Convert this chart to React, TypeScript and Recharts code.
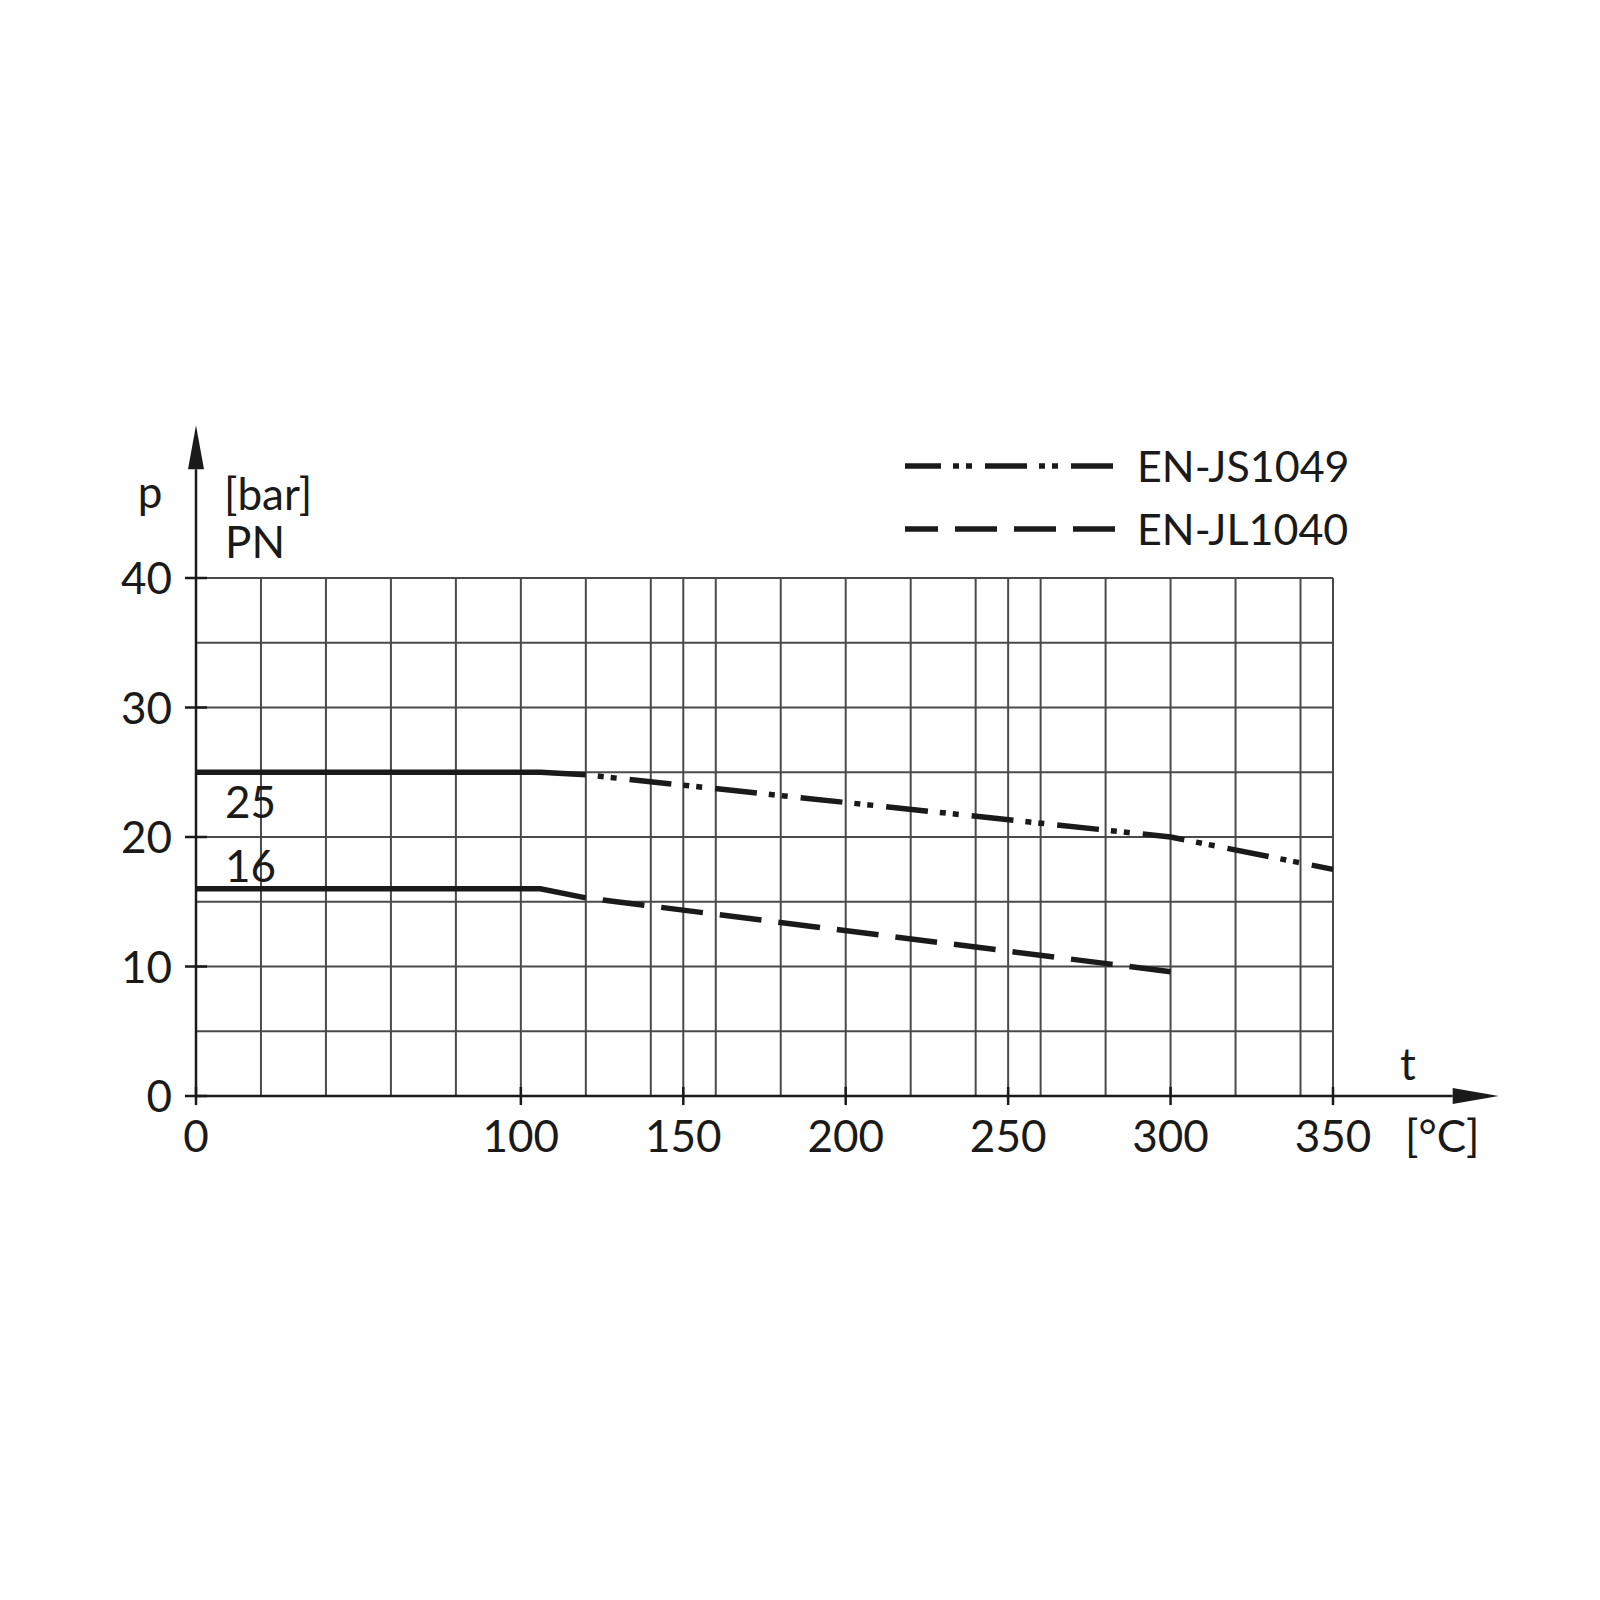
import React from "react";
import {
  LineChart,
  Line,
  XAxis,
  YAxis,
  ReferenceLine,
  Label,
} from "recharts";

// axis ticks and grid
const xTicks = [0, 100, 150, 200, 250, 300, 350];
const yTicks = [0, 10, 20, 30, 40];
const gridX = [20, 40, 60, 80, 100, 120, 140, 150, 160, 180, 200, 220, 240, 250, 260, 280, 300, 320, 340, 350];
const gridY = [5, 10, 15, 20, 25, 30, 35, 40];

// pressure rating curves (t in °C, p in bar)
const pn25 = [
  { t: 0, p: 25 },
  { t: 106, p: 25 },
  { t: 120, p: 24.8 },
];
const js1049 = [
  { t: 120, p: 24.8 },
  { t: 300, p: 20 },
  { t: 350, p: 17.5 },
];
const pn16 = [
  { t: 0, p: 16 },
  { t: 106, p: 16 },
  { t: 120, p: 15.3 },
];
const jl1040 = [
  { t: 120, p: 15.3 },
  { t: 300, p: 9.6 },
];

const legendNames = ["EN-JS1049", "EN-JL1040"];

const FONT = "Lato, 'DejaVu Sans', sans-serif";
const INK = "#1a1a1a";
const GRID = "#4a4a4a";
const LINE_W = 5.5;

const dashStyles: Record<string, { dash: string; offset: number; legendOffset: number }> = {
  "EN-JS1049": { dash: "42 12 6 7 6 13", offset: 42, legendOffset: 6 },
  "EN-JL1040": { dash: "42 17", offset: 42, legendOffset: 9 },
};

const arrowShape = (len: number, half: number) => (props: any) => {
  const { x1, y1, x2, y2 } = props;
  const dx = x2 - x1;
  const dy = y2 - y1;
  const d = Math.hypot(dx, dy) || 1;
  const ux = dx / d;
  const uy = dy / d;
  const bx = x2 - ux * len;
  const by = y2 - uy * len;
  const px = -uy * half;
  const py = ux * half;
  return (
    <g>
      <line x1={x1} y1={y1} x2={bx} y2={by} stroke={INK} strokeWidth={2.5} />
      <polygon
        points={`${x2},${y2} ${bx + px},${by + py} ${bx - px},${by - py}`}
        fill={INK}
      />
    </g>
  );
};

const XTick = ({ x, y, payload }: any) => (
  <text x={x} y={y + 56} textAnchor="middle" fontSize={44} fontFamily={FONT} fill={INK}>
    {payload.value}
  </text>
);

const YTick = ({ x, y, payload }: any) => (
  <text x={x - 24} y={y + 16} textAnchor="end" fontSize={44} fontFamily={FONT} fill={INK}>
    {payload.value}
  </text>
);

const pnLabel = (dy: number) => (props: any) => {
  const { x, y, index, value } = props;
  if (index !== 0) return null;
  return (
    <text x={x + 29} y={y + dy} fontSize={44} fontFamily={FONT} fill={INK}>
      {value}
    </text>
  );
};

const YAxisTitle = (props: any) => {
  const { viewBox } = props;
  const right = viewBox.x + viewBox.width;
  const top = viewBox.y;
  return (
    <g fontFamily={FONT} fontSize={44} fill={INK}>
      <text x={right - 46} y={top - 70} textAnchor="middle">p</text>
      <text x={right + 28} y={top - 68}>[bar]</text>
      <text x={right + 29} y={top - 20}>PN</text>
    </g>
  );
};

const XAxisTitle = (props: any) => {
  const { viewBox } = props;
  const right = viewBox.x + viewBox.width;
  const top = viewBox.y;
  return (
    <g fontFamily={FONT} fontSize={44} fill={INK}>
      <text x={right + 75} y={top - 16} textAnchor="middle">t</text>
      <text x={right + 72} y={top + 56}>[°C]</text>
    </g>
  );
};

function ChartLegend() {
  return (
    <div
      style={{
        position: "absolute",
        left: 905,
        top: 434,
        fontFamily: FONT,
        fontSize: 43,
        color: INK,
      }}
    >
      {legendNames.map((name) => {
        const s = dashStyles[name];
        return (
          <div key={name} style={{ display: "flex", alignItems: "center", height: 63 }}>
            <svg width={212} height={12} style={{ marginRight: 20 }}>
              <line
                x1={0}
                y1={6}
                x2={212}
                y2={6}
                stroke={INK}
                strokeWidth={LINE_W}
                strokeDasharray={s.dash}
                strokeDashoffset={s.legendOffset}
              />
            </svg>
            <span>{name}</span>
          </div>
        );
      })}
    </div>
  );
}

export default function App() {
  return (
    <div style={{ position: "absolute", left: 0, top: 0, width: 1600, height: 1600, background: "#fff" }}>
      <LineChart
        width={1600}
        height={1600}
        margin={{ top: 578, right: 267, bottom: 474, left: 136 }}
      >
        <XAxis
          dataKey="t"
          type="number"
          domain={[0, 350]}
          ticks={xTicks}
          interval={0}
          height={30}
          tickSize={0}
          tickMargin={0}
          tickLine={false}
          axisLine={false}
          tick={<XTick />}
        >
          <Label content={<XAxisTitle />} />
        </XAxis>
        <YAxis
          type="number"
          domain={[0, 40]}
          ticks={yTicks}
          interval={0}
          width={60}
          tickSize={0}
          tickMargin={0}
          tickLine={false}
          axisLine={false}
          tick={<YTick />}
        >
          <Label content={<YAxisTitle />} />
        </YAxis>

        {gridX.map((v) => (
          <ReferenceLine key={`gx${v}`} x={v} stroke={GRID} strokeWidth={2} />
        ))}
        {gridY.map((v) => (
          <ReferenceLine key={`gy${v}`} y={v} stroke={GRID} strokeWidth={2} />
        ))}
        {xTicks.map((v) => (
          <ReferenceLine
            key={`tx${v}`}
            segment={[{ x: v, y: -0.7 }, { x: v, y: 0.7 }]}
            ifOverflow="visible"
            stroke={INK}
            strokeWidth={2.5}
          />
        ))}
        {yTicks.map((v) => (
          <ReferenceLine
            key={`ty${v}`}
            segment={[{ x: -3.4, y: v }, { x: 3.4, y: v }]}
            ifOverflow="visible"
            stroke={INK}
            strokeWidth={2.5}
          />
        ))}
        <ReferenceLine
          segment={[{ x: 0, y: 0 }, { x: 401, y: 0 }]}
          ifOverflow="visible"
          shape={arrowShape(46, 8)}
        />
        <ReferenceLine
          segment={[{ x: 0, y: 0 }, { x: 0, y: 51.8 }]}
          ifOverflow="visible"
          shape={arrowShape(44, 8)}
        />

        <Line
          data={pn25}
          dataKey="p"
          name="PN25"
          legendType="none"
          type="linear"
          stroke={INK}
          strokeWidth={LINE_W}
          dot={false}
          activeDot={false}
          label={pnLabel(46)}
          isAnimationActive={false}
        />
        <Line
          data={js1049}
          dataKey="p"
          name="EN-JS1049"
          type="linear"
          stroke={INK}
          strokeWidth={LINE_W}
          strokeDasharray={dashStyles["EN-JS1049"].dash}
          strokeDashoffset={dashStyles["EN-JS1049"].offset}
          dot={false}
          activeDot={false}
          isAnimationActive={false}
        />
        <Line
          data={pn16}
          dataKey="p"
          name="PN16"
          legendType="none"
          type="linear"
          stroke={INK}
          strokeWidth={LINE_W}
          dot={false}
          activeDot={false}
          label={pnLabel(-7)}
          isAnimationActive={false}
        />
        <Line
          data={jl1040}
          dataKey="p"
          name="EN-JL1040"
          type="linear"
          stroke={INK}
          strokeWidth={LINE_W}
          strokeDasharray={dashStyles["EN-JL1040"].dash}
          strokeDashoffset={dashStyles["EN-JL1040"].offset}
          dot={false}
          activeDot={false}
          isAnimationActive={false}
        />
      </LineChart>
      <ChartLegend />
    </div>
  );
}
